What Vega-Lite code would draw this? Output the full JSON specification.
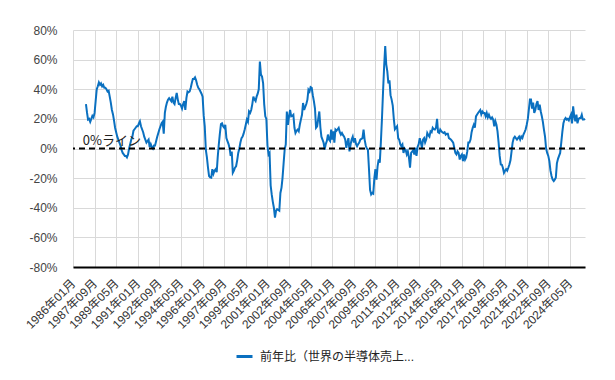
{
"$schema": "https://vega.github.io/schema/vega-lite/v6.json",
"width": 512, "height": 237,
"autosize": {"type": "none"},
"padding": {"left": 73, "top": 30, "right": 30, "bottom": 113},
"background": "white",
"config": {"view": {"stroke": null}, "font": "'Liberation Sans', 'Noto Sans CJK JP', sans-serif", "axis": {"labelOverlap": false}},
"layer": [
{
"data": {"format": {"parse": {"d": "utc:'%Y-%m'"}}, "values": [
{"d":"1987-01","v":30},{"d":"1987-02","v":24},{"d":"1987-03","v":19.5},{"d":"1987-04","v":20},{"d":"1987-05","v":18},{"d":"1987-06","v":20},{"d":"1987-07","v":22},{"d":"1987-08","v":21},{"d":"1987-09","v":24},{"d":"1987-10","v":32},{"d":"1987-11","v":40},{"d":"1987-12","v":42},
{"d":"1988-01","v":44.6},{"d":"1988-02","v":43},{"d":"1988-03","v":44},{"d":"1988-04","v":42},{"d":"1988-05","v":43},{"d":"1988-06","v":41},{"d":"1988-07","v":41},{"d":"1988-08","v":40},{"d":"1988-09","v":38.5},{"d":"1988-10","v":39},{"d":"1988-11","v":35},{"d":"1988-12","v":31},
{"d":"1989-01","v":26},{"d":"1989-02","v":23},{"d":"1989-03","v":19},{"d":"1989-04","v":14},{"d":"1989-05","v":11},{"d":"1989-06","v":8},{"d":"1989-07","v":6},{"d":"1989-08","v":4},{"d":"1989-09","v":2},{"d":"1989-10","v":-1},{"d":"1989-11","v":-3},{"d":"1989-12","v":-4},
{"d":"1990-01","v":-5},{"d":"1990-02","v":-5},{"d":"1990-03","v":-6},{"d":"1990-04","v":-4},{"d":"1990-05","v":0},{"d":"1990-06","v":3},{"d":"1990-07","v":6},{"d":"1990-08","v":8},{"d":"1990-09","v":12},{"d":"1990-10","v":13},{"d":"1990-11","v":14},{"d":"1990-12","v":15},
{"d":"1991-01","v":15},{"d":"1991-02","v":17},{"d":"1991-03","v":18.4},{"d":"1991-04","v":15},{"d":"1991-05","v":13},{"d":"1991-06","v":11},{"d":"1991-07","v":8},{"d":"1991-08","v":6},{"d":"1991-09","v":4},{"d":"1991-10","v":5},{"d":"1991-11","v":6},{"d":"1991-12","v":1},
{"d":"1992-01","v":3},{"d":"1992-02","v":1},{"d":"1992-03","v":0},{"d":"1992-04","v":2},{"d":"1992-05","v":2},{"d":"1992-06","v":5},{"d":"1992-07","v":8},{"d":"1992-08","v":10.5},{"d":"1992-09","v":13},{"d":"1992-10","v":15},{"d":"1992-11","v":17},{"d":"1992-12","v":18},
{"d":"1993-01","v":10},{"d":"1993-02","v":24},{"d":"1993-03","v":28},{"d":"1993-04","v":31},{"d":"1993-05","v":33},{"d":"1993-06","v":34},{"d":"1993-07","v":33},{"d":"1993-08","v":32},{"d":"1993-09","v":35},{"d":"1993-10","v":31},{"d":"1993-11","v":30},{"d":"1993-12","v":34},
{"d":"1994-01","v":37.5},{"d":"1994-02","v":33},{"d":"1994-03","v":30},{"d":"1994-04","v":30},{"d":"1994-05","v":29},{"d":"1994-06","v":27},{"d":"1994-07","v":30},{"d":"1994-08","v":32},{"d":"1994-09","v":26},{"d":"1994-10","v":34},{"d":"1994-11","v":38.5},{"d":"1994-12","v":38},
{"d":"1995-01","v":38.5},{"d":"1995-02","v":41},{"d":"1995-03","v":44},{"d":"1995-04","v":47},{"d":"1995-05","v":47},{"d":"1995-06","v":48},{"d":"1995-07","v":46},{"d":"1995-08","v":43},{"d":"1995-09","v":41},{"d":"1995-10","v":40},{"d":"1995-11","v":38.5},{"d":"1995-12","v":37},
{"d":"1996-01","v":35},{"d":"1996-02","v":22},{"d":"1996-03","v":15},{"d":"1996-04","v":-1},{"d":"1996-05","v":-6},{"d":"1996-06","v":-13},{"d":"1996-07","v":-18.6},{"d":"1996-08","v":-19.5},{"d":"1996-09","v":-19.7},{"d":"1996-10","v":-14},{"d":"1996-11","v":-17},{"d":"1996-12","v":-15},
{"d":"1997-01","v":-14},{"d":"1997-02","v":-16},{"d":"1997-03","v":-6},{"d":"1997-04","v":2.7},{"d":"1997-05","v":10},{"d":"1997-06","v":16.5},{"d":"1997-07","v":17},{"d":"1997-08","v":15},{"d":"1997-09","v":14},{"d":"1997-10","v":16},{"d":"1997-11","v":7},{"d":"1997-12","v":5},
{"d":"1998-01","v":3},{"d":"1998-02","v":0},{"d":"1998-03","v":-5},{"d":"1998-04","v":-2},{"d":"1998-05","v":-16.4},{"d":"1998-06","v":-15},{"d":"1998-07","v":-13},{"d":"1998-08","v":-12},{"d":"1998-09","v":-8},{"d":"1998-10","v":-3},{"d":"1998-11","v":0},{"d":"1998-12","v":4},
{"d":"1999-01","v":7},{"d":"1999-02","v":8},{"d":"1999-03","v":10},{"d":"1999-04","v":12.8},{"d":"1999-05","v":16},{"d":"1999-06","v":19.5},{"d":"1999-07","v":18},{"d":"1999-08","v":25},{"d":"1999-09","v":24},{"d":"1999-10","v":26},{"d":"1999-11","v":30},{"d":"1999-12","v":35},
{"d":"2000-01","v":33},{"d":"2000-02","v":32},{"d":"2000-03","v":35},{"d":"2000-04","v":37},{"d":"2000-05","v":40},{"d":"2000-06","v":58.7},{"d":"2000-07","v":50},{"d":"2000-08","v":48.6},{"d":"2000-09","v":44},{"d":"2000-10","v":30},{"d":"2000-11","v":21.7},{"d":"2000-12","v":20},
{"d":"2001-01","v":2},{"d":"2001-02","v":-4},{"d":"2001-03","v":-3},{"d":"2001-04","v":-25},{"d":"2001-05","v":-31},{"d":"2001-06","v":-36},{"d":"2001-07","v":-40},{"d":"2001-08","v":-46.6},{"d":"2001-09","v":-42},{"d":"2001-10","v":-41},{"d":"2001-11","v":-41.5},{"d":"2001-12","v":-42},
{"d":"2002-01","v":-30},{"d":"2002-02","v":-26.4},{"d":"2002-03","v":-20},{"d":"2002-04","v":-10},{"d":"2002-05","v":-0.7},{"d":"2002-06","v":2.7},{"d":"2002-07","v":25},{"d":"2002-08","v":16},{"d":"2002-09","v":21.7},{"d":"2002-10","v":26},{"d":"2002-11","v":21.7},{"d":"2002-12","v":22},
{"d":"2003-01","v":22.8},{"d":"2003-02","v":14},{"d":"2003-03","v":10.5},{"d":"2003-04","v":12},{"d":"2003-05","v":12.8},{"d":"2003-06","v":11.6},{"d":"2003-07","v":16},{"d":"2003-08","v":19.5},{"d":"2003-09","v":22.8},{"d":"2003-10","v":30.7},{"d":"2003-11","v":26},{"d":"2003-12","v":28},
{"d":"2004-01","v":30},{"d":"2004-02","v":33},{"d":"2004-03","v":39.7},{"d":"2004-04","v":38.5},{"d":"2004-05","v":41.5},{"d":"2004-06","v":41},{"d":"2004-07","v":36},{"d":"2004-08","v":32},{"d":"2004-09","v":27},{"d":"2004-10","v":14},{"d":"2004-11","v":15},{"d":"2004-12","v":20},
{"d":"2005-01","v":25},{"d":"2005-02","v":14},{"d":"2005-03","v":8},{"d":"2005-04","v":6},{"d":"2005-05","v":4},{"d":"2005-06","v":-0.7},{"d":"2005-07","v":3},{"d":"2005-08","v":5},{"d":"2005-09","v":9.4},{"d":"2005-10","v":6},{"d":"2005-11","v":5},{"d":"2005-12","v":12.8},
{"d":"2006-01","v":6},{"d":"2006-02","v":11.6},{"d":"2006-03","v":4},{"d":"2006-04","v":12.8},{"d":"2006-05","v":12},{"d":"2006-06","v":13},{"d":"2006-07","v":14},{"d":"2006-08","v":11},{"d":"2006-09","v":9.4},{"d":"2006-10","v":10.5},{"d":"2006-11","v":9},{"d":"2006-12","v":8},
{"d":"2007-01","v":6},{"d":"2007-02","v":0.5},{"d":"2007-03","v":4},{"d":"2007-04","v":7},{"d":"2007-05","v":-2},{"d":"2007-06","v":2.7},{"d":"2007-07","v":6},{"d":"2007-08","v":8},{"d":"2007-09","v":4},{"d":"2007-10","v":7},{"d":"2007-11","v":3},{"d":"2007-12","v":1.5},
{"d":"2008-01","v":3},{"d":"2008-02","v":4},{"d":"2008-03","v":6},{"d":"2008-04","v":6.5},{"d":"2008-05","v":7},{"d":"2008-06","v":12.8},{"d":"2008-07","v":6},{"d":"2008-08","v":2},{"d":"2008-09","v":0},{"d":"2008-10","v":-0.7},{"d":"2008-11","v":-14},{"d":"2008-12","v":-28},
{"d":"2009-01","v":-31},{"d":"2009-02","v":-30},{"d":"2009-03","v":-30.5},{"d":"2009-04","v":-20},{"d":"2009-05","v":-14},{"d":"2009-06","v":-21},{"d":"2009-07","v":-12},{"d":"2009-08","v":-7.4},{"d":"2009-09","v":-9.6},{"d":"2009-10","v":4},{"d":"2009-11","v":20},{"d":"2009-12","v":38},
{"d":"2010-01","v":55},{"d":"2010-02","v":69.2},{"d":"2010-03","v":57},{"d":"2010-04","v":52},{"d":"2010-05","v":44},{"d":"2010-06","v":46},{"d":"2010-07","v":36},{"d":"2010-08","v":33},{"d":"2010-09","v":29},{"d":"2010-10","v":20},{"d":"2010-11","v":13},{"d":"2010-12","v":14},
{"d":"2011-01","v":15},{"d":"2011-02","v":7},{"d":"2011-03","v":6},{"d":"2011-04","v":3},{"d":"2011-05","v":1.5},{"d":"2011-06","v":2.7},{"d":"2011-07","v":-3},{"d":"2011-08","v":0},{"d":"2011-09","v":-1},{"d":"2011-10","v":-4},{"d":"2011-11","v":-2},{"d":"2011-12","v":-6},
{"d":"2012-01","v":-13},{"d":"2012-02","v":-3},{"d":"2012-03","v":-2},{"d":"2012-04","v":-1},{"d":"2012-05","v":-4},{"d":"2012-06","v":0.5},{"d":"2012-07","v":-5},{"d":"2012-08","v":1},{"d":"2012-09","v":3},{"d":"2012-10","v":7},{"d":"2012-11","v":4},{"d":"2012-12","v":0.5},
{"d":"2013-01","v":6},{"d":"2013-02","v":7},{"d":"2013-03","v":4},{"d":"2013-04","v":6},{"d":"2013-05","v":10.5},{"d":"2013-06","v":9},{"d":"2013-07","v":8},{"d":"2013-08","v":11.6},{"d":"2013-09","v":11},{"d":"2013-10","v":14},{"d":"2013-11","v":13},{"d":"2013-12","v":12.8},
{"d":"2014-01","v":14},{"d":"2014-02","v":20},{"d":"2014-03","v":11},{"d":"2014-04","v":10.5},{"d":"2014-05","v":12.8},{"d":"2014-06","v":11.6},{"d":"2014-07","v":11},{"d":"2014-08","v":10.5},{"d":"2014-09","v":11},{"d":"2014-10","v":9.4},{"d":"2014-11","v":10},{"d":"2014-12","v":10},
{"d":"2015-01","v":7},{"d":"2015-02","v":6.5},{"d":"2015-03","v":6},{"d":"2015-04","v":5},{"d":"2015-05","v":4},{"d":"2015-06","v":0.5},{"d":"2015-07","v":-3},{"d":"2015-08","v":-4},{"d":"2015-09","v":-2},{"d":"2015-10","v":-3},{"d":"2015-11","v":-7.4},{"d":"2015-12","v":-5},
{"d":"2016-01","v":-4},{"d":"2016-02","v":-8.5},{"d":"2016-03","v":-4},{"d":"2016-04","v":-7.4},{"d":"2016-05","v":-6},{"d":"2016-06","v":-2},{"d":"2016-07","v":4},{"d":"2016-08","v":4},{"d":"2016-09","v":6},{"d":"2016-10","v":11},{"d":"2016-11","v":14},{"d":"2016-12","v":16},
{"d":"2017-01","v":14},{"d":"2017-02","v":21.7},{"d":"2017-03","v":22.8},{"d":"2017-04","v":24},{"d":"2017-05","v":25},{"d":"2017-06","v":26},{"d":"2017-07","v":23},{"d":"2017-08","v":25},{"d":"2017-09","v":24},{"d":"2017-10","v":24},{"d":"2017-11","v":21.7},{"d":"2017-12","v":24},
{"d":"2018-01","v":21},{"d":"2018-02","v":22.8},{"d":"2018-03","v":21},{"d":"2018-04","v":20},{"d":"2018-05","v":21},{"d":"2018-06","v":19.5},{"d":"2018-07","v":15},{"d":"2018-08","v":18.4},{"d":"2018-09","v":16},{"d":"2018-10","v":11.6},{"d":"2018-11","v":4},{"d":"2018-12","v":-5},
{"d":"2019-01","v":-10.8},{"d":"2019-02","v":-11},{"d":"2019-03","v":-13},{"d":"2019-04","v":-16.4},{"d":"2019-05","v":-15},{"d":"2019-06","v":-14},{"d":"2019-07","v":-15},{"d":"2019-08","v":-13},{"d":"2019-09","v":-10.8},{"d":"2019-10","v":-8},{"d":"2019-11","v":-2},{"d":"2019-12","v":4},
{"d":"2020-01","v":7},{"d":"2020-02","v":8},{"d":"2020-03","v":7},{"d":"2020-04","v":6},{"d":"2020-05","v":7},{"d":"2020-06","v":8},{"d":"2020-07","v":6},{"d":"2020-08","v":8},{"d":"2020-09","v":7},{"d":"2020-10","v":9.4},{"d":"2020-11","v":11},{"d":"2020-12","v":12.8},
{"d":"2021-01","v":16},{"d":"2021-02","v":20},{"d":"2021-03","v":26},{"d":"2021-04","v":33},{"d":"2021-05","v":33},{"d":"2021-06","v":27},{"d":"2021-07","v":31},{"d":"2021-08","v":24},{"d":"2021-09","v":26},{"d":"2021-10","v":30},{"d":"2021-11","v":32},{"d":"2021-12","v":26},
{"d":"2022-01","v":29.6},{"d":"2022-02","v":25},{"d":"2022-03","v":22},{"d":"2022-04","v":18},{"d":"2022-05","v":12.8},{"d":"2022-06","v":8},{"d":"2022-07","v":0},{"d":"2022-08","v":-3},{"d":"2022-09","v":-5},{"d":"2022-10","v":-8.5},{"d":"2022-11","v":-15},{"d":"2022-12","v":-18.6},
{"d":"2023-01","v":-21},{"d":"2023-02","v":-22},{"d":"2023-03","v":-21},{"d":"2023-04","v":-19.7},{"d":"2023-05","v":-10},{"d":"2023-06","v":-7},{"d":"2023-07","v":-5},{"d":"2023-08","v":-3},{"d":"2023-09","v":4},{"d":"2023-10","v":11},{"d":"2023-11","v":17},{"d":"2023-12","v":19.5},
{"d":"2024-01","v":20.6},{"d":"2024-02","v":19.5},{"d":"2024-03","v":20},{"d":"2024-04","v":19},{"d":"2024-05","v":21},{"d":"2024-06","v":22.8},{"d":"2024-07","v":17},{"d":"2024-08","v":28.5},{"d":"2024-09","v":21.7},{"d":"2024-10","v":18.4},{"d":"2024-11","v":22.8},{"d":"2024-12","v":17},
{"d":"2025-01","v":20},{"d":"2025-02","v":20.6},{"d":"2025-03","v":20.6},{"d":"2025-04","v":22.8},{"d":"2025-05","v":19.5},{"d":"2025-06","v":19.5},{"d":"2025-07","v":20}
]},
"mark": {"type": "line", "color": "#0a70c0", "strokeWidth": 2},
"encoding": {
"x": {"field": "d", "type": "temporal",
 "scale": {"type": "utc", "domain": [{"year": 1986, "month": 1, "date": 1, "utc": true}, {"year": 2025, "month": 7, "date": 1, "utc": true}]},
 "axis": {"title": null, "grid": true, "gridColor": "#d9d9d9", "ticks": false, "domainColor": "#000", "domainWidth": 2,
  "labelAngle": -45, "labelAlign": "right", "labelBaseline": "middle", "labelPadding": 14, "labelFontSize": 12, "labelColor": "#333", "labelOverlap": false, "labelFlush": false, "labelBound": false,
  "labelExpr": "utcFormat(datum.value, '%Y年%m月')", "tickCount": 30,
  "values": [
   {"year":1986,"month":1,"date":1,"utc":true},{"year":1987,"month":9,"date":1,"utc":true},{"year":1989,"month":5,"date":1,"utc":true},{"year":1991,"month":1,"date":1,"utc":true},
   {"year":1992,"month":9,"date":1,"utc":true},{"year":1994,"month":5,"date":1,"utc":true},{"year":1996,"month":1,"date":1,"utc":true},{"year":1997,"month":9,"date":1,"utc":true},
   {"year":1999,"month":5,"date":1,"utc":true},{"year":2001,"month":1,"date":1,"utc":true},{"year":2002,"month":9,"date":1,"utc":true},{"year":2004,"month":5,"date":1,"utc":true},
   {"year":2006,"month":1,"date":1,"utc":true},{"year":2007,"month":9,"date":1,"utc":true},{"year":2009,"month":5,"date":1,"utc":true},{"year":2011,"month":1,"date":1,"utc":true},
   {"year":2012,"month":9,"date":1,"utc":true},{"year":2014,"month":5,"date":1,"utc":true},{"year":2016,"month":1,"date":1,"utc":true},{"year":2017,"month":9,"date":1,"utc":true},
   {"year":2019,"month":5,"date":1,"utc":true},{"year":2021,"month":1,"date":1,"utc":true},{"year":2022,"month":9,"date":1,"utc":true},{"year":2024,"month":5,"date":1,"utc":true}
  ]}},
"y": {"field": "v", "type": "quantitative", "scale": {"domain": [-80, 80], "nice": false},
 "axis": {"title": null, "values": [-80,-60,-40,-20,0,20,40,60,80], "tickCount": 12, "labelExpr": "datum.value + '%'", "domain": false, "ticks": false, "tickSize": 0, "labelPadding": 16, "labelOverlap": false,
  "grid": true, "gridColor": "#d9d9d9", "labelFontSize": 12, "labelColor": "#444"}},
"color": {"datum": "前年比（世界の半導体売上...", "type": "nominal", "scale": {"range": ["#0a70c0"]},
 "legend": {"title": null, "orient": "none", "legendX": 162, "legendY": 317, "symbolType": "stroke", "symbolStrokeWidth": 3, "symbolSize": 256,
  "labelFontSize": 12, "labelColor": "#222", "labelLimit": 400, "labelOffset": 6}}
}
},
{
"data": {"values": [{}]},
"mark": {"type": "rule", "color": "#000", "strokeWidth": 2, "strokeDash": [6, 4]},
"encoding": {"y": {"datum": 0}}
},
{
"data": {"values": [{}]},
"mark": {"type": "text", "align": "left", "baseline": "alphabetic", "dy": -4, "fontSize": 13, "font": "Noto Sans CJK JP", "color": "#222"},
"encoding": {"x": {"datum": {"year": 1986, "month": 10, "date": 1, "utc": true}, "type": "temporal"}, "y": {"datum": 0}, "text": {"value": "0%ライン"}}
}
]
}
